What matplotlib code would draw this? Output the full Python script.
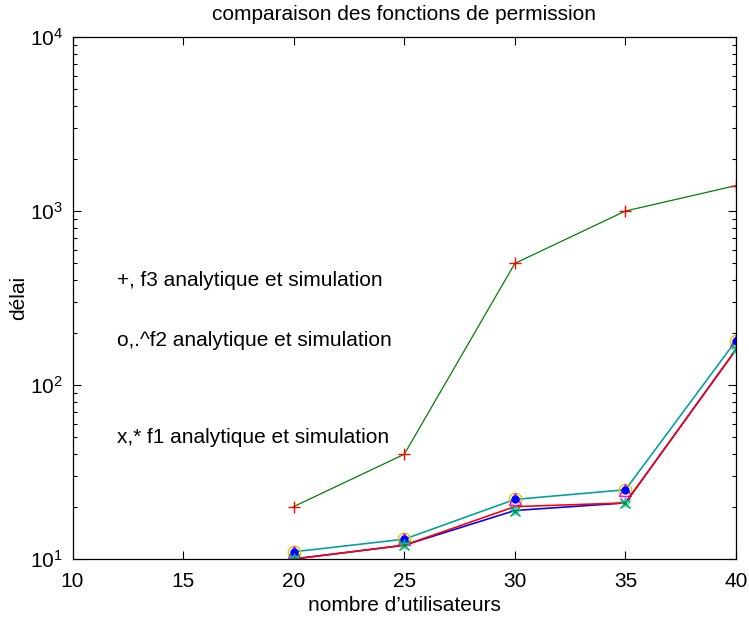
import matplotlib
matplotlib.use("Agg")
import matplotlib.pyplot as plt

plt.rcParams['font.family'] = ['Liberation Sans', 'DejaVu Sans']
plt.rcParams['mathtext.fontset'] = 'custom'
plt.rcParams['mathtext.rm'] = 'Liberation Sans'
plt.rcParams['mathtext.it'] = 'Liberation Sans:italic'

utilisateurs = [20, 25, 30, 35, 40]
f3_analytique = [20, 40, 500, 1000, 1400]
f3_simulation = [20, 40, 500, 1000, 1400]
f2_analytique = [11, 13, 22, 25, 180]
f2_simulation = [11, 13, 22, 25, 180]
f1_analytique = [10, 12, 20, 21, 160]
f1_simulation = [10, 12, 19, 21, 160]

x_ticks = [10, 15, 20, 25, 30, 35, 40]
title = "comparaison des fonctions de permission"
xlabel = "nombre d\u2019utilisateurs"
ylabel = "délai"
annotations = ["+, f3 analytique et simulation",
               "o,.^f2 analytique et simulation",
               "x,* f1 analytique et simulation"]
annot_y = [400, 180, 50]

fs = 15

fig = plt.figure(figsize=(7.49, 6.17), dpi=100)
ax = fig.add_axes([0.0968, 0.094, 0.8859, 0.846])

lw = 0.9
ax.plot(utilisateurs, f3_analytique, color='#008000', lw=lw)
ax.plot(utilisateurs, f3_simulation, ls='none', marker='+', color='red', ms=9, mew=1)

ax.plot(utilisateurs, f2_analytique, color='#00a0a0', lw=lw*1.3)
ax.plot(utilisateurs, f2_simulation, ls='none', marker='o', mfc='none', mec='#d0d000', ms=9, mew=1)
ax.plot(utilisateurs, f2_simulation, ls='none', marker='^', mfc='none', mec='magenta', ms=8, mew=1)
ax.plot(utilisateurs, f2_simulation, ls='none', marker='.', color='blue', ms=10)

ax.plot(utilisateurs, f1_simulation, color='blue', lw=lw*1.3)
ax.plot(utilisateurs, f1_analytique, color='red', lw=lw*1.3)
ax.plot(utilisateurs, f1_simulation, ls='none', marker='x', color='#00a000', ms=7, mew=1)
ax.plot(utilisateurs, f1_simulation, ls='none', marker='*', color='#00c0c0', ms=8, mew=0.8, mfc='none')

ax.set_yscale('log')
ax.set_xlim(10, 40)
ax.set_ylim(10, 1e4)
ax.set_xticks(x_ticks)
ax.set_xticklabels([str(t) for t in x_ticks])

for t, yv in zip(annotations, annot_y):
    ax.text(12, yv, t, fontsize=fs, va='center', ha='left')

ax.set_title(title, fontsize=fs, pad=12)
ax.set_xlabel(xlabel, fontsize=fs, labelpad=4)
ax.set_ylabel(ylabel, fontsize=fs, labelpad=1)

ax.tick_params(which='both', direction='in', top=True, right=True, labelsize=fs, width=0.8)
ax.tick_params(axis='x', pad=9)
ax.tick_params(axis='y', pad=7)
ax.tick_params(which='major', length=6)
ax.tick_params(which='minor', length=3)
for s in ax.spines.values():
    s.set_linewidth(0.9)

fig.savefig("out.png", dpi=100)
